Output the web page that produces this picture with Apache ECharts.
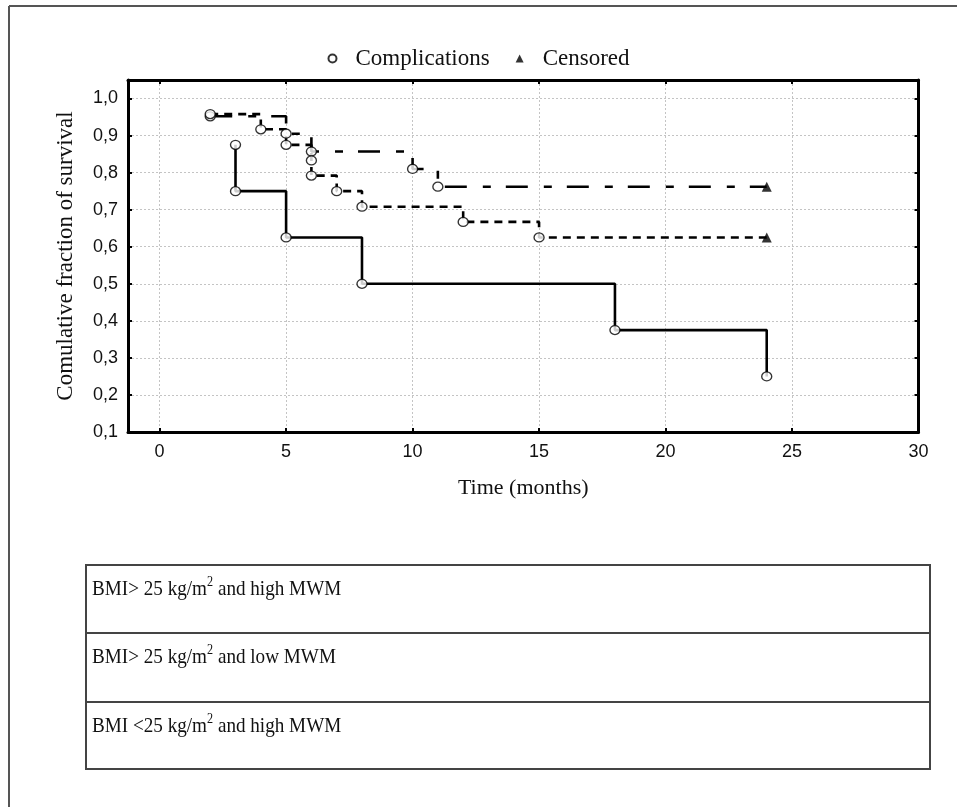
<!DOCTYPE html>
<html>
<head>
<meta charset="utf-8">
<script src="https://cdn.jsdelivr.net/npm/echarts@6/dist/echarts.min.js"></script>
<style>
html,body{margin:0;padding:0;background:#fff;}
#chart{width:957px;height:807px;}
</style>
</head>
<body>
<div id="chart"></div>
<script>
// ---- Data ----
// Group A (solid line)
const groupA_times = [3, 3, 5, 8, 18, 24];
const groupA_surv  = [0.875, 0.75, 0.625, 0.5, 0.375, 0.25];
const groupA_censTimes = [];
const groupA_censSurv  = [];
// Group B (long dash - short dash)
const groupB_times = [2, 5, 6, 10, 11];
const groupB_surv  = [0.952, 0.905, 0.857, 0.810, 0.762];
const groupB_censTimes = [24];
const groupB_censSurv  = [0.762];
// Group C (short dashes)
const groupC_times = [2, 4, 5, 6, 6, 7, 8, 12, 15];
const groupC_surv  = [0.958, 0.917, 0.875, 0.833, 0.792, 0.75, 0.708, 0.667, 0.625];
const groupC_censTimes = [24];
const groupC_censSurv  = [0.625];

const legendNames = ['Complications', 'Censored'];
const tableRows = [
  ['BMI> 25 kg/m', '2', ' and high MWM'],
  ['BMI> 25 kg/m', '2', ' and low MWM'],
  ['BMI <25 kg/m', '2', ' and high MWM']
];
const xAxisTitle = 'Time (months)';
const yAxisTitle = 'Comulative fraction of survival';

// ---- build ----
function pairs(t, s) { return t.map((v, i) => [v, s[i]]); }
function linePts(t, s, ct, cs) { return pairs(t, s).concat(pairs(ct, cs)); }

const serifFont = '"Liberation Serif", "Times New Roman", serif';
const sansFont = '"Liberation Sans", Arial, sans-serif';

const complications = pairs(groupA_times, groupA_surv)
  .concat(pairs(groupB_times, groupB_surv))
  .concat(pairs(groupC_times, groupC_surv));
const censored = pairs(groupA_censTimes, groupA_censSurv)
  .concat(pairs(groupB_censTimes, groupB_censSurv))
  .concat(pairs(groupC_censTimes, groupC_censSurv));

const GRID = {left: 128, top: 80, right: 38.5, bottom: 375};

function fmtComma(v) { return v.toFixed(1).replace('.', ','); }

const tableGraphics = [];
const rowTops = [565, 633, 702];
const rowHeights = [68, 69, 67];
rowTops.forEach((y, i) => {
  tableGraphics.push({
    type: 'rect', shape: {x: 86, y: y, width: 844, height: rowHeights[i]},
    style: {fill: 'none', stroke: '#444', lineWidth: 2}
  });
  tableGraphics.push({
    type: 'text', x: 92, y: y + 23, scaleX: 0.87,
    style: {
      text: '{n|' + tableRows[i][0] + '}{s|' + tableRows[i][1] + '}{n|' + tableRows[i][2] + '}',
      verticalAlign: 'middle',
      rich: {
        n: {fontFamily: serifFont, fontSize: 22, fill: '#111', verticalAlign: 'bottom', lineHeight: 25},
        s: {fontFamily: serifFont, fontSize: 14, fill: '#111', verticalAlign: 'top', lineHeight: 25, padding: [0, 0, 9, 0]}
      }
    }
  });
});
// outer frame (top & left)
tableGraphics.push({type: 'line', shape: {x1: 9, y1: 6, x2: 957, y2: 6}, style: {stroke: '#555', lineWidth: 2}});
tableGraphics.push({type: 'line', shape: {x1: 9, y1: 6, x2: 9, y2: 807}, style: {stroke: '#555', lineWidth: 2}});

const axisCommon = {
  type: 'value',
  axisLine: {show: true, onZero: false, lineStyle: {color: '#000', width: 3}},
  axisTick: {show: true, inside: true, length: 4, lineStyle: {color: '#000', width: 2}}
};

const option = {
  animation: false,
  backgroundColor: '#fff',
  graphic: tableGraphics,
  legend: {
    data: [{name: legendNames[0], icon: 'circle'}, {name: legendNames[1], icon: 'triangle'}],
    left: 'center', top: 42,
    itemWidth: 8, itemHeight: 8, itemGap: 26,
    textStyle: {fontFamily: serifFont, fontSize: 23, color: '#111', padding: [0, 0, 0, 14]}
  },
  grid: GRID,
  xAxis: [
    Object.assign({}, axisCommon, {
      min: -1.25, max: 30, position: 'bottom',
      name: xAxisTitle, nameLocation: 'middle', nameGap: 45,
      nameTextStyle: {fontFamily: serifFont, fontSize: 22, color: '#111'},
      axisLabel: {show: true, margin: 11, fontFamily: sansFont, fontSize: 18, color: '#111', showMinLabel: false},
      splitLine: {show: true, lineStyle: {color: '#c4c4c4', type: [2, 2], width: 1}}
    }),
    Object.assign({}, axisCommon, {
      min: -1.25, max: 30, position: 'top',
      axisLabel: {show: false}, splitLine: {show: false}
    })
  ],
  yAxis: [
    Object.assign({}, axisCommon, {
      min: 0.1, max: 1.05, interval: 0.1, position: 'left',
      name: yAxisTitle, nameLocation: 'middle', nameGap: 51,
      nameTextStyle: {fontFamily: serifFont, fontSize: 23, color: '#111'},
      axisLabel: {show: true, margin: 10, fontFamily: sansFont, fontSize: 18, color: '#111', showMaxLabel: false, formatter: fmtComma},
      splitLine: {show: true, lineStyle: {color: '#c4c4c4', type: [2, 2], width: 1}}
    }),
    Object.assign({}, axisCommon, {
      min: 0.1, max: 1.05, interval: 0.1, position: 'right',
      axisLabel: {show: false}, splitLine: {show: false}
    })
  ],
  series: [
    {
      type: 'line', step: 'end', showSymbol: false, silent: true, z: 2,
      data: linePts(groupA_times, groupA_surv, groupA_censTimes, groupA_censSurv),
      lineStyle: {color: '#000', width: 2.6, type: 'solid'}
    },
    {
      type: 'line', step: 'end', showSymbol: false, silent: true, z: 2,
      data: linePts(groupB_times, groupB_surv, groupB_censTimes, groupB_censSurv),
      lineStyle: {color: '#000', width: 2.6, type: [22, 16, 8, 15]}
    },
    {
      type: 'line', step: 'end', showSymbol: false, silent: true, z: 2,
      data: linePts(groupC_times, groupC_surv, groupC_censTimes, groupC_censSurv),
      lineStyle: {color: '#000', width: 2.6, type: [8, 6]}
    },
    {
      name: legendNames[0], type: 'scatter', z: 5,
      symbol: 'circle', symbolSize: [10, 9],
      data: complications,
      itemStyle: {color: '#fff', borderColor: '#000', borderWidth: 1.3}
    },
    {
      name: legendNames[1], type: 'scatter', z: 5,
      symbol: 'triangle', symbolSize: 10,
      data: censored,
      itemStyle: {color: '#000'}
    }
  ]
};

const chart = echarts.init(document.getElementById('chart'), null, {renderer: 'canvas'});
chart.setOption(option);
</script>
</body>
</html>
